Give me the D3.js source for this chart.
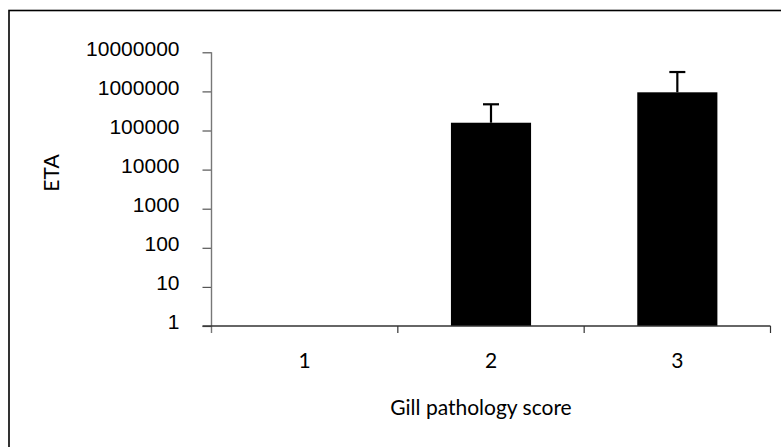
<!DOCTYPE html>
<html>
<head>
<meta charset="utf-8">
<script src="https://cdn.jsdelivr.net/npm/d3@7"></script>
<style>
  html, body { margin: 0; padding: 0; background: #fff; }
  svg { display: block; font-family: Lato, "DejaVu Sans", sans-serif; }
</style>
</head>
<body>
<svg id="chart" width="781" height="447"></svg>
<script>
// Gill pathology score categories and mean ETA per group (log scale)
const categories = ["1", "2", "3"];
const etaMean = [null, 158000, 948000];
const etaUpper = [null, 468000, 3130000];
const yTickValues = [1, 10, 100, 1000, 10000, 100000, 1000000, 10000000];
const yTickLabels = ["1", "10", "100", "1000", "10000", "100000", "1000000", "10000000"];

const FONT = 21;
const svg = d3.select("#chart");

// outer frame
svg.append("rect")
  .attr("x", 9).attr("y", 10.5)
  .attr("width", 800).attr("height", 500)
  .attr("fill", "none").attr("stroke", "#000").attr("stroke-width", 1.6);

const plotLeft = 211.5, plotRight = 770.5, plotTop = 52.3, plotBottom = 326;

const x = d3.scaleBand().domain(categories).range([plotLeft, plotRight]).padding(0);
const y = d3.scaleLog().domain([1, 1e7]).range([plotBottom, plotTop]);

const barW = x.bandwidth() * 0.43;

// bars
const data = categories.map((c, i) => ({ c, v: etaMean[i], hi: etaUpper[i] }))
  .filter(d => d.v != null);

svg.append("g").selectAll("rect")
  .data(data).join("rect")
  .attr("x", d => x(d.c) + x.bandwidth() / 2 - barW / 2)
  .attr("y", d => y(d.v))
  .attr("width", barW)
  .attr("height", d => y(1) - y(d.v))
  .attr("fill", "#000");

// upper error bars
const err = svg.append("g").attr("stroke", "#000").attr("stroke-width", 2.2);
err.selectAll("line.v").data(data).join("line").attr("class", "v")
  .attr("x1", d => x(d.c) + x.bandwidth() / 2)
  .attr("x2", d => x(d.c) + x.bandwidth() / 2)
  .attr("y1", d => y(d.v))
  .attr("y2", d => y(d.hi));
err.selectAll("line.cap").data(data).join("line").attr("class", "cap")
  .attr("x1", d => x(d.c) + x.bandwidth() / 2 - 8)
  .attr("x2", d => x(d.c) + x.bandwidth() / 2 + 8)
  .attr("y1", d => y(d.hi))
  .attr("y2", d => y(d.hi));

// y axis
const yAxis = d3.axisLeft(y)
  .tickValues(yTickValues)
  .tickFormat((d, i) => yTickLabels[i])
  .tickSizeInner(9).tickSizeOuter(0).tickPadding(23);
const gy = svg.append("g").attr("transform", `translate(${plotLeft},0)`).call(yAxis);
gy.select(".domain").remove();
gy.append("line")
  .attr("x1", 0).attr("x2", 0).attr("y1", plotTop).attr("y2", plotBottom + 7)
  .attr("stroke", "#777").attr("stroke-width", 1.4);
gy.selectAll(".tick line").attr("stroke", "#555").attr("stroke-width", 1.2);
gy.selectAll(".tick text")
  .attr("font-size", FONT).attr("fill", "#000")
  .attr("dy", "0.14em");

// x axis
const gx = svg.append("g").attr("transform", `translate(0,${plotBottom})`);
gx.append("line")
  .attr("x1", plotLeft - 9).attr("x2", plotRight).attr("y1", 0).attr("y2", 0)
  .attr("stroke", "#333").attr("stroke-width", 1.3);
gx.selectAll("line.tk")
  .data(categories.slice(1).map(c => x(c)).concat([plotRight]))
  .join("line").attr("class", "tk")
  .attr("x1", d => d).attr("x2", d => d)
  .attr("y1", 0).attr("y2", 7)
  .attr("stroke", "#333").attr("stroke-width", 1.2);
gx.selectAll("text")
  .data(categories).join("text")
  .attr("x", d => x(d) + x.bandwidth() / 2)
  .attr("y", 42)
  .attr("text-anchor", "middle")
  .attr("font-size", FONT)
  .text(d => d);

// axis titles
svg.append("text")
  .attr("x", (plotLeft + plotRight) / 2 - 10).attr("y", 415)
  .attr("text-anchor", "middle").attr("font-size", FONT)
  .text("Gill pathology score");

svg.append("text")
  .attr("transform", "translate(59,173) rotate(-90)")
  .attr("text-anchor", "middle").attr("font-size", FONT)
  .text("ETA");
</script>
</body>
</html>
